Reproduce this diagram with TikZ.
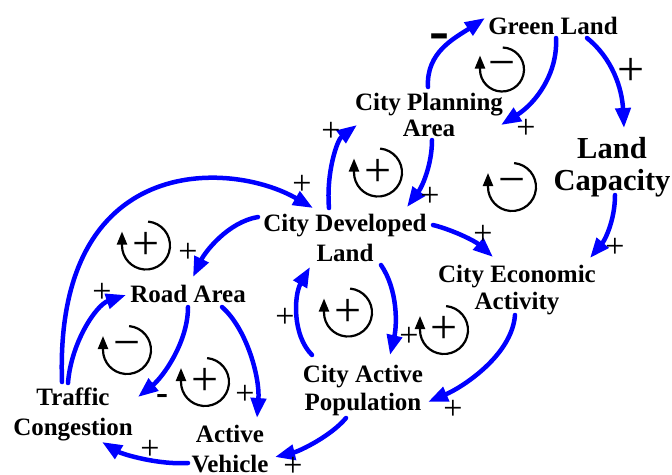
\documentclass[tikz,border=0pt]{standalone}
\usepackage{fontspec}
\setmainfont{Liberation Serif}
\usetikzlibrary{arrows.meta}
\begin{document}
\begin{tikzpicture}[x=1pt,y=1pt,
  var/.style={align=center, inner sep=0pt},
  fA/.style={font=\bfseries\fontsize{25}{27}\selectfont},
  link/.style={draw=blue, line width=4.5pt, line cap=round, -{Triangle[length=20pt,width=15pt]}},
  pol/.style={font=\fontsize{34}{34}\selectfont, inner sep=0pt},
  polneg/.style={font=\bfseries\fontsize{60}{60}\selectfont, inner sep=0pt},
  ring/.style={draw=black, line width=2.2pt, -{Triangle[length=13pt,width=10pt]}},
  loopsign/.style={font=\fontsize{48}{48}\selectfont, inner sep=0pt}
]
\useasboundingbox (0,0) rectangle (672,-474);
% variables
\node[var, fA] (gl) at (553,-26) {Green Land};
\node[var, font=\bfseries\fontsize{25}{26}\selectfont] (cpa) at (429,-115) {City Planning\\Area};
\node[var, font=\bfseries\fontsize{30.5}{32}\selectfont] (lc) at (612,-167) {Land\\Capacity};
\node[var, font=\bfseries\fontsize{25}{30}\selectfont] (cdl) at (345,-237.5) {City Developed\\Land};
\node[var, fA] (cea) at (517,-290) {City Economic\\Activity};
\node[var, font=\bfseries\fontsize{25}{28}\selectfont] (cap) at (363,-390) {City Active\\Population};
\node[var, font=\bfseries\fontsize{25}{30}\selectfont] (tc) at (73,-414) {Traffic\\Congestion};
\node[var, font=\bfseries\fontsize{25}{30}\selectfont] (av) at (230,-449.5) {Active\\Vehicle};
\node[var, fA] (ra) at (188,-293.5) {Road Area};
% links
\draw[link] ([shift={(-1,28)}]cpa.center) .. controls +(-2,35) and +(-30,-20) .. ([shift={(-68,8)}]gl.center);
\draw[link] ([shift={(3,-12)}]gl.center) .. controls +(2,-35) and +(35,22) .. ([shift={(72,-10)}]cpa.center);
\draw[link] ([shift={(34,-12)}]gl.center) .. controls +(25,-20) and +(-2,40) .. ([shift={(12,39)}]lc.center);
\draw[link] ([shift={(3,-28)}]lc.center) .. controls +(0,-25) and +(15,18) .. ([shift={(73,32)}]cea.center);
\draw[link] ([shift={(88,12.5)}]cdl.center) .. controls +(20,-5) and +(-18,16) .. ([shift={(-24,33)}]cea.center);
\draw[link] ([shift={(3,-25)}]cpa.center) .. controls +(0,-25) and +(15,20) .. ([shift={(62,30.5)}]cdl.center);
\draw[link] ([shift={(-16,29.5)}]cdl.center) .. controls +(-3,35) and +(-20,-15) .. ([shift={(-72,-10)}]cpa.center);
\draw[link] ([shift={(-11,32)}]tc.center) .. controls +(-8,230) and +(-83,48) .. ([shift={(-32,29.5)}]cdl.center);
\draw[link] ([shift={(-87,20.5)}]cdl.center) .. controls +(-30,-5) and +(12,25) .. ([shift={(5,16.5)}]ra.center);
\draw[link] ([shift={(-5,31)}]tc.center) .. controls +(3,40) and +(-30,-10) .. ([shift={(-62,-1.5)}]ra.center);
\draw[link] ([shift={(0,-13.5)}]ra.center) .. controls +(0,-35) and +(25,20) .. ([shift={(65,17)}]tc.center);
\draw[link] ([shift={(34,-13.5)}]ra.center) .. controls +(25,-22) and +(3,40) .. ([shift={(27,31.5)}]av.center);
\draw[link] ([shift={(-42,-13.5)}]av.center) .. controls +(-30,-2) and +(20,-12) .. ([shift={(29,-28)}]tc.center);
\draw[link] ([shift={(-17,-28)}]cap.center) .. controls +(-15,-18) and +(25,6) .. ([shift={(45,-7.5)}]av.center);
\draw[link] ([shift={(-2,-25)}]cea.center) .. controls +(-3,-40) and +(35,15) .. ([shift={(65,-12)}]cap.center);
\draw[link] ([shift={(-51,35)}]cap.center) .. controls +(-20,20) and +(-16,-28) .. ([shift={(-35,-29.5)}]cdl.center);
\draw[link] ([shift={(36,-27.5)}]cdl.center) .. controls +(17,-25) and +(7,30) .. ([shift={(27,35)}]cap.center);
% polarities
\node[polneg] (p1) at (439,-42) {-};
\node[pol] (p2) at (526,-129) {+};
\node[pol, font=\fontsize{48}{48}\selectfont] (p3) at (631,-72) {+};
\node[pol] (p4) at (615,-248) {+};
\node[pol] (p5) at (483,-235) {+};
\node[pol] (p6) at (430,-197) {+};
\node[pol] (p7) at (331,-132) {+};
\node[pol] (p8) at (302,-185) {+};
\node[pol] (p9) at (188,-253) {+};
\node[pol] (p10) at (102,-293) {+};
\node[polneg, font=\bfseries\fontsize{36}{36}\selectfont] (p11) at (162,-399) {-};
\node[pol] (p12) at (245,-395) {+};
\node[pol] (p13) at (150,-450) {+};
\node[pol] (p14) at (293,-467) {+};
\node[pol] (p15) at (453,-410) {+};
\node[pol] (p16) at (285,-318) {+};
\node[pol] (p17) at (409,-337) {+};
% loop symbols
\node[loopsign] (l1) at (502,-69.5) {−};
\node[loopsign] (l2) at (512,-187) {−};
\node[loopsign] (l3) at (378,-172.5) {+};
\node[loopsign] (l4) at (146,-245.5) {+};
\node[loopsign] (l5) at (127,-350) {−};
\node[loopsign] (l6) at (205,-382) {+};
\node[loopsign] (l7) at (348,-312.5) {+};
\node[loopsign] (l8) at (444,-330) {+};
\draw[ring] ([shift={(88:22)}]l1.center) arc[start angle=88, end angle=-180, radius=22] -- ++(0,14);
\draw[ring] ([shift={(85:24)}]l2.center) arc[start angle=85, end angle=-180, radius=24] -- ++(0,14);
\draw[ring] ([shift={(85:24)}]l3.center) arc[start angle=85, end angle=-180, radius=24] -- ++(0,14);
\draw[ring] ([shift={(85:24)}]l4.center) arc[start angle=85, end angle=-180, radius=24] -- ++(0,14);
\draw[ring] ([shift={(85:24)}]l5.center) arc[start angle=85, end angle=-180, radius=24] -- ++(0,14);
\draw[ring] ([shift={(85:24)}]l6.center) arc[start angle=85, end angle=-180, radius=24] -- ++(0,14);
\draw[ring] ([shift={(85:24)}]l7.center) arc[start angle=85, end angle=-180, radius=24] -- ++(0,14);
\draw[ring] ([shift={(85:24)}]l8.center) arc[start angle=85, end angle=-180, radius=24] -- ++(0,14);
\end{tikzpicture}
\end{document}
